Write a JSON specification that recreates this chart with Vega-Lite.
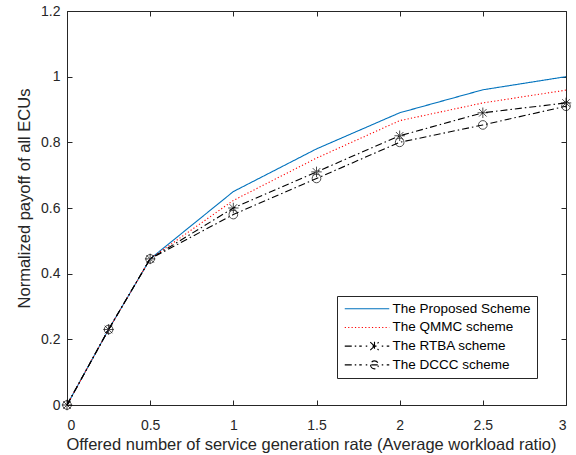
{
  "$schema": "https://vega.github.io/schema/vega-lite/v6.json",
  "width": 499,
  "height": 394,
  "autosize": "none",
  "padding": {"left": 67, "top": 11, "right": 10, "bottom": 50},
  "background": "white",
  "config": {
    "font": "Liberation Sans",
    "view": {"stroke": "#262626", "strokeWidth": 1},
    "axis": {
      "grid": false,
      "domainColor": "#262626",
      "tickColor": "#262626",
      "labelColor": "#262626",
      "titleColor": "#262626",
      "labelFont": "Liberation Sans",
      "titleFont": "Liberation Sans",
      "labelFontSize": 14,
      "titleFontSize": 16.5,
      "titleFontWeight": "normal",
      "tickSize": -5,
      "format": "~g"
    }
  },
  "resolve": {"axis": {"x": "independent", "y": "independent"}},
  "data": {
    "values": [
      {"x": 0, "y": 0, "s": "The Proposed Scheme"},
      {"x": 0.25, "y": 0.23, "s": "The Proposed Scheme"},
      {"x": 0.5, "y": 0.445, "s": "The Proposed Scheme"},
      {"x": 1, "y": 0.65, "s": "The Proposed Scheme"},
      {"x": 1.5, "y": 0.78, "s": "The Proposed Scheme"},
      {"x": 2, "y": 0.89, "s": "The Proposed Scheme"},
      {"x": 2.5, "y": 0.96, "s": "The Proposed Scheme"},
      {"x": 3, "y": 1.0, "s": "The Proposed Scheme"},
      {"x": 0, "y": 0, "s": "The QMMC scheme"},
      {"x": 0.25, "y": 0.23, "s": "The QMMC scheme"},
      {"x": 0.5, "y": 0.445, "s": "The QMMC scheme"},
      {"x": 1, "y": 0.623, "s": "The QMMC scheme"},
      {"x": 1.5, "y": 0.752, "s": "The QMMC scheme"},
      {"x": 2, "y": 0.866, "s": "The QMMC scheme"},
      {"x": 2.5, "y": 0.92, "s": "The QMMC scheme"},
      {"x": 3, "y": 0.959, "s": "The QMMC scheme"},
      {"x": 0, "y": 0, "s": "The RTBA scheme"},
      {"x": 0.25, "y": 0.23, "s": "The RTBA scheme"},
      {"x": 0.5, "y": 0.445, "s": "The RTBA scheme"},
      {"x": 1, "y": 0.6, "s": "The RTBA scheme"},
      {"x": 1.5, "y": 0.71, "s": "The RTBA scheme"},
      {"x": 2, "y": 0.82, "s": "The RTBA scheme"},
      {"x": 2.5, "y": 0.89, "s": "The RTBA scheme"},
      {"x": 3, "y": 0.92, "s": "The RTBA scheme"},
      {"x": 0, "y": 0, "s": "The DCCC scheme"},
      {"x": 0.25, "y": 0.23, "s": "The DCCC scheme"},
      {"x": 0.5, "y": 0.445, "s": "The DCCC scheme"},
      {"x": 1, "y": 0.58, "s": "The DCCC scheme"},
      {"x": 1.5, "y": 0.69, "s": "The DCCC scheme"},
      {"x": 2, "y": 0.8, "s": "The DCCC scheme"},
      {"x": 2.5, "y": 0.853, "s": "The DCCC scheme"},
      {"x": 3, "y": 0.91, "s": "The DCCC scheme"}
    ]
  },
  "layer": [
    {
      "mark": {"type": "line", "strokeWidth": 1.1},
      "encoding": {
        "x": {
          "field": "x", "type": "quantitative",
          "scale": {"domain": [0, 3], "nice": false, "zero": false},
          "axis": {"values": [0, 0.5, 1, 1.5, 2, 2.5, 3], "title": "Offered number of service generation rate (Average workload ratio)", "labelPadding": 18, "titlePadding": 4, "titleX": 244}
        },
        "y": {
          "field": "y", "type": "quantitative",
          "scale": {"domain": [0, 1.2], "nice": false},
          "axis": {"values": [0, 0.2, 0.4, 0.6, 0.8, 1, 1.2], "title": "Normalized payoff of all ECUs", "labelPadding": 12, "titlePadding": 8, "titleY": 187}
        },
        "color": {
          "field": "s", "type": "nominal",
          "scale": {
            "domain": ["The Proposed Scheme", "The QMMC scheme", "The RTBA scheme", "The DCCC scheme"],
            "range": ["#0072BD", "#FF0000", "#000000", "#000000"]
          },
          "legend": {
            "title": null,
            "orient": "none",
            "legendX": 270,
            "legendY": 285,
            "padding": 6,
            "strokeColor": "#262626",
            "fillColor": "white",
            "labelFont": "Liberation Sans",
            "labelFontSize": 13.5,
            "labelColor": "#000000",
            "labelOffset": 36,
            "rowPadding": 3.7,
            "symbolSize": 100,
            "symbolStrokeWidth": 1.1,
            "symbolType": "M-1,0H7.9",
            "encode": {
              "symbols": {
                "update": {
                  "shape": {"signal": "datum.value == 'The RTBA scheme' ? 'M-1,0H2.4M3.2,0H3.5M4.55,0H5.35M4.1,-0.8L5.8,0.8M4.1,0.8L5.8,-0.8M4.95,-0.9V0.9M6.4,0H6.7M7.4,0H7.9' : datum.value == 'The DCCC scheme' ? 'M-1,0H2.4M3.2,0H3.5M4.15,0A0.8,0.8 0 1,0 5.75,0A0.8,0.8 0 1,0 4.15,0M4.3,0H5.6M6.4,0H6.7M7.4,0H7.9' : 'M-1,0H7.9'"},
                  "strokeDash": {"signal": "datum.value == 'The QMMC scheme' ? [1.2, 2.6] : [1, 0]"},
                  "stroke": {"signal": "datum.value == 'The Proposed Scheme' ? '#0072BD' : datum.value == 'The QMMC scheme' ? '#FF0000' : '#000000'"},
                  "fill": {"value": "transparent"}
                }
              }
            }
          }
        },
        "strokeDash": {
          "field": "s", "type": "nominal",
          "scale": {
            "domain": ["The Proposed Scheme", "The QMMC scheme", "The RTBA scheme", "The DCCC scheme"],
            "range": [[1, 0], [1.2, 2.2], [7, 3, 1.5, 3], [7, 3, 1.5, 3]]
          },
          "legend": null
        }
      }
    },
    {
      "transform": [{"filter": "datum.s == 'The RTBA scheme' || datum.s == 'The DCCC scheme'"}],
      "mark": {"type": "point", "filled": false, "stroke": "#000000", "strokeWidth": 1},
      "encoding": {
        "x": {"field": "x", "type": "quantitative", "axis": {"orient": "top", "labels": false, "title": null, "values": [0, 0.5, 1, 1.5, 2, 2.5, 3], "domain": false}},
        "y": {"field": "y", "type": "quantitative", "axis": {"orient": "right", "labels": false, "title": null, "values": [0, 0.2, 0.4, 0.6, 0.8, 1, 1.2], "domain": false}},
        "shape": {
          "field": "s", "type": "nominal",
          "scale": {
            "domain": ["The RTBA scheme", "The DCCC scheme"],
            "range": ["M-1,0H1M0,-1V1M-0.72,-0.72L0.72,0.72M-0.72,0.72L0.72,-0.72", "circle"]
          },
          "legend": null
        },
        "size": {
          "field": "s", "type": "nominal",
          "scale": {"domain": ["The RTBA scheme", "The DCCC scheme"], "range": [110, 75]},
          "legend": null
        }
      }
    }
  ]
}
